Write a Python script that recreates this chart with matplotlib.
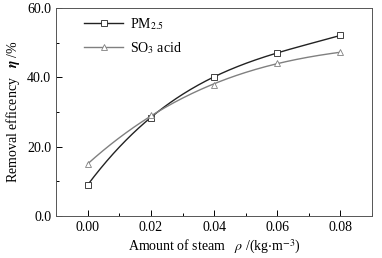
import numpy as np
import matplotlib.pyplot as plt
from matplotlib.ticker import MultipleLocator

plt.rcParams['font.family'] = ['Liberation Serif', 'DejaVu Serif']
plt.rcParams['mathtext.fontset'] = 'stix'

# data
steam = [0.00, 0.02, 0.04, 0.06, 0.08]
pm25 = [9.0, 28.4, 40.2, 47.0, 52.1]
so3 = [15.0, 29.0, 37.9, 44.1, 47.2]

fig = plt.figure(figsize=(3.82, 2.58), dpi=100)
ax = fig.add_axes([0.147, 0.163, 0.827, 0.806])

xs = np.linspace(0, 0.08, 200)
for y, col, mk, lab in [(pm25, '#222222', 's', r'PM$_{2.5}$'),
                        (so3, '#808080', '^', r'SO$_3$ acid')]:
    c = np.polyfit(steam, y, 3)
    ax.plot(xs, np.polyval(c, xs), color=col, lw=1.0)
    ax.plot(steam, y, ls='none', marker=mk, ms=3.8, mfc='white', mec=col, mew=0.6)
    ax.plot([], [], color=col, lw=1.0, marker=mk, ms=3.8, mfc='white', mec=col,
            mew=0.6, label=lab)

ax.set_xlim(-0.01, 0.09)
ax.set_ylim(0, 60)
ax.xaxis.set_minor_locator(MultipleLocator(0.01))
ax.yaxis.set_minor_locator(MultipleLocator(10))
ax.set_xticks([0.0, 0.02, 0.04, 0.06, 0.08])
ax.set_xticklabels(['0.00', '0.02', '0.04', '0.06', '0.08'])
ax.set_yticks([0, 20, 40, 60])
ax.set_yticklabels(['0.0', '20.0', '40.0', '60.0'])
ax.tick_params(which='both', direction='in', labelsize=10, top=False, right=False)
ax.tick_params(which='major', length=4, width=0.7)
ax.tick_params(which='minor', length=2.5, width=0.7)
for s in ax.spines.values():
    s.set_linewidth(0.7)
    s.set_color('#555555')

ax.set_xlabel(r'Amount of steam   $\rho$ /(kg$\cdot$m$^{-3}$)', fontsize=10, labelpad=3)
ax.set_ylabel(r'Removal efficency   $\boldsymbol{\eta}$ /%', fontsize=10, labelpad=4)
ax.legend(loc='upper left', bbox_to_anchor=(0.05, 1.02), frameon=False, fontsize=10,
          handlelength=2.8, handletextpad=0.5, labelspacing=0.55)

fig.savefig('out.png', dpi=100)
